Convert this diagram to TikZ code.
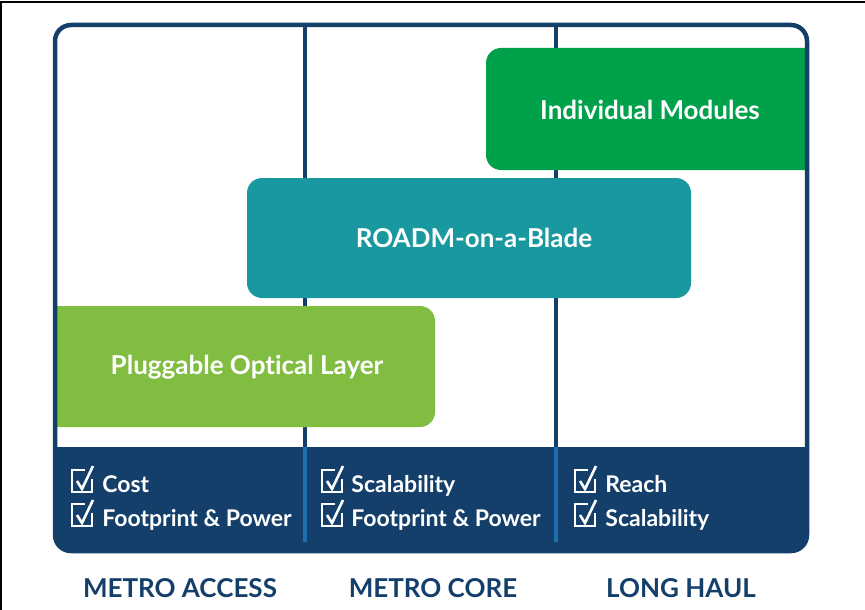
\documentclass[tikz,border=0pt]{standalone}
\usepackage{fontspec}
\setmainfont{Lato}[Ligatures=NoCommon]
\definecolor{navy}{HTML}{143F6B}
\definecolor{bandline}{HTML}{1D6FAE}
\definecolor{modgreen}{HTML}{00A14B}
\definecolor{bladeteal}{HTML}{1A98A0}
\definecolor{plugreen}{HTML}{80BD41}

\begin{document}
\begin{tikzpicture}[x=1pt,y=-1pt,thick]
  \tikzstyle{bartext}=[text=white,font=\fontsize{26}{30}\selectfont\bfseries]
  \tikzstyle{item}=[text=white,anchor=base west,inner sep=0pt,
    font=\fontsize{23}{27}\selectfont\bfseries]
  \tikzstyle{region}=[text=navy,anchor=base,inner sep=0pt,
    font=\fontsize{26}{30}\selectfont\bfseries]
  \tikzstyle{divider}=[navy,line width=3.5pt]
  \tikzstyle{banddiv}=[bandline,line width=4pt]
  \tikzset{chk/.pic={
      \draw[white,line width=1.4pt] (3,-11) -- (-10,-11) -- (-10,11) -- (10,11) -- (10,-2);
      \draw[white,line width=2.6pt] (-5,0) -- (0,8) -- (11,-15);}}

  \useasboundingbox (0,0) rectangle (865,610);
  \draw[black,line width=2pt] (1,610) -- (1,2) -- (865,2);

  % panel, bars and bottom band
  \begin{scope}
    \clip[rounded corners=16pt] (55,25) rectangle (807,551);
    \draw[divider] (305,25) -- (305,447);
    \draw[divider] (556,25) -- (556,447);
    \fill[modgreen,rounded corners=15pt] (486,48) rectangle (840,170);
    \fill[bladeteal,rounded corners=15pt] (247,178) rectangle (691,298);
    \fill[plugreen,rounded corners=15pt] (20,306) rectangle (435,427);
    \fill[navy] (0,447) rectangle (865,610);
  \end{scope}
  \draw[navy,line width=4.5pt,rounded corners=16pt] (55,25) rectangle (807,551);
  \draw[banddiv] (305,447) -- (305,542);
  \draw[banddiv] (556,447) -- (556,542);

  \node[bartext] (modules)   at (650,110) {Individual Modules};
  \node[bartext] (blade)     at (474,238) {ROADM-on-a-Blade};
  \node[bartext] (pluggable) at (247,367) {Pluggable Optical Layer};

  % check lists
  \pic at (82,481)  {chk}; \node[item] (cost)   at (102,492) {Cost};
  \pic at (82,515)  {chk}; \node[item] (footA)  at (102,526) {Footprint \& Power};
  \pic at (332,481) {chk}; \node[item] (scaleA) at (351,492) {Scalability};
  \pic at (332,515) {chk}; \node[item] (footB)  at (351,526) {Footprint \& Power};
  \pic at (585,481) {chk}; \node[item] (reach)  at (605,492) {Reach};
  \pic at (585,515) {chk}; \node[item] (scaleB) at (605,526) {Scalability};

  \node[region] (access) at (180,597) {METRO ACCESS};
  \node[region] (core)   at (433,597) {METRO CORE};
  \node[region] (haul)   at (681,597) {LONG HAUL};
\end{tikzpicture}
\end{document}
